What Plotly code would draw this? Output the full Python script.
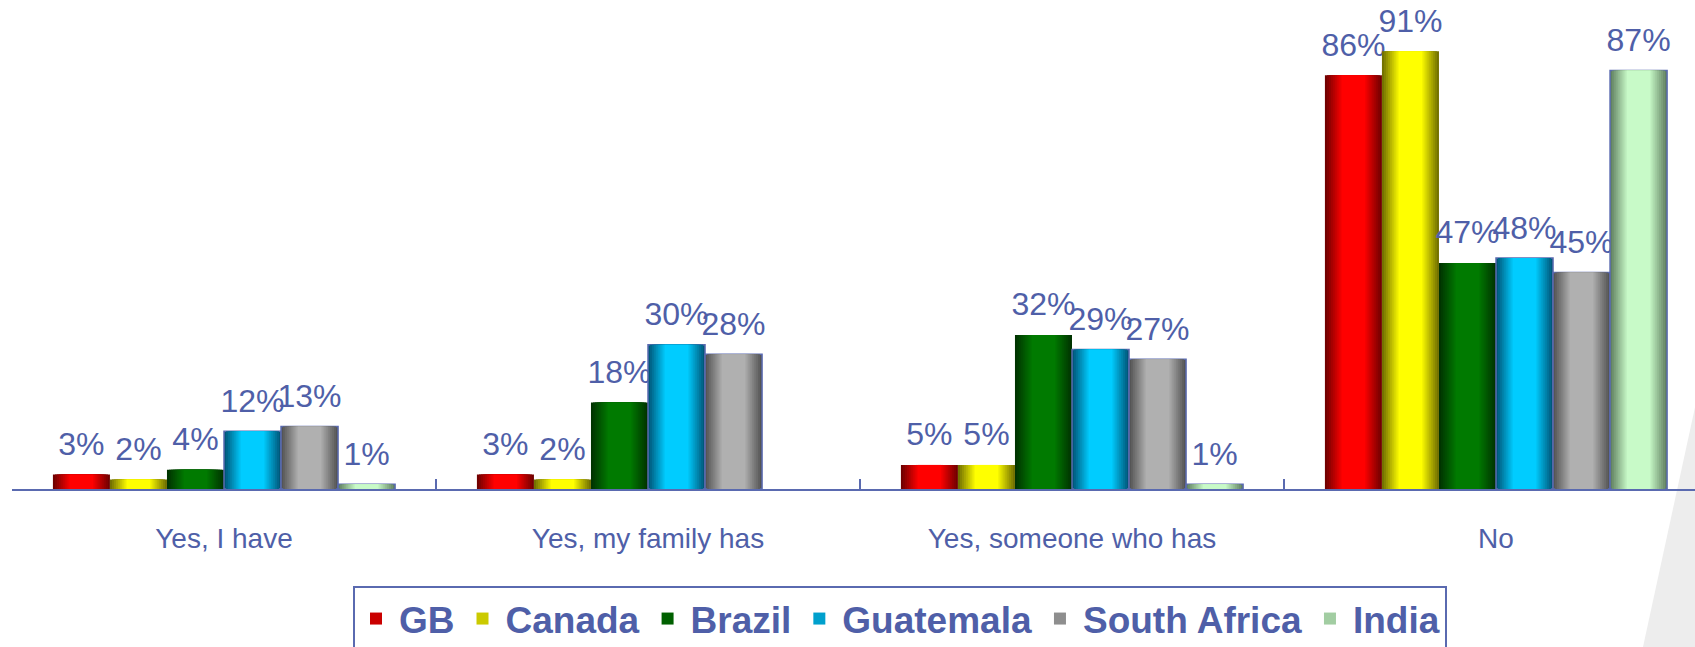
import plotly.graph_objects as go

# ---------------- data ----------------
CATEGORIES = ["Yes, I have", "Yes, my family has", "Yes, someone who has", "No"]
SERIES = ["GB", "Canada", "Brazil", "Guatemala", "South Africa", "India"]
GB = [3, 3, 5, 86]
CANADA = [2, 2, 5, 91]
BRAZIL = [4, 18, 32, 47]
GUATEMALA = [12, 30, 29, 48]
SOUTH_AFRICA = [13, 28, 27, 45]
INDIA = [1, None, 1, 87]
VALUES = [GB, CANADA, BRAZIL, GUATEMALA, SOUTH_AFRICA, INDIA]

# ---------------- styles ----------------
EDGE_COLORS = ["#720000", "#747200", "#003400", "#00587A", "#555555", "#628262"]
CENTER_COLORS = ["#FF0000", "#FFFF00", "#007A00", "#00CCFF", "#B0B0B0", "#C8FAC8"]
OUTLINED = [False, False, False, True, True, True]
TEXT_COLOR = "#4F5FA8"
LINE_COLOR = "#5A6AB0"
FONT = "Liberation Sans, Arial, sans-serif"

W_PX, H_PX = 1695, 647
M_L, M_R, M_T, M_B = 12, 0, 8, 158
PLOT_W = W_PX - M_L - M_R
PLOT_H = H_PX - M_T - M_B
CAT_PX = 424.0

GROUP = 0.807
BW = GROUP / len(SERIES)
K = 9


def hex2rgb(h):
    h = h.lstrip("#")
    return tuple(int(h[j:j + 2], 16) for j in (0, 2, 4))


def mix(c1, c2, t):
    a, b = hex2rgb(c1), hex2rgb(c2)
    return "rgb(%d,%d,%d)" % tuple(round(a[j] + (b[j] - a[j]) * t) for j in range(3))


fig = go.Figure()

for i, name in enumerate(SERIES):
    vals = VALUES[i]
    off_i = -GROUP / 2 + i * BW
    for k in range(K):
        t = k / (K - 1)
        f = 1.0 - t * 0.58
        fig.add_trace(go.Bar(
            x=CATEGORIES, y=vals, name=name, legendgroup=name,
            width=BW * f, offset=off_i + BW * (1 - f) / 2,
            marker=dict(color=mix(EDGE_COLORS[i], CENTER_COLORS[i], t),
                        line=dict(color=LINE_COLOR,
                                  width=1.5 if (OUTLINED[i] and k == 0) else 0)),
            showlegend=(k == K // 2 + 1), hoverinfo="skip" if k else "x+y+name",
        ))
    # value labels (transparent spacer bar sitting on top of each bar)
    fig.add_trace(go.Bar(
        x=CATEGORIES, y=[2.0 if v is not None else None for v in vals],
        base=[v if v is not None else 0 for v in vals],
        width=BW, offset=off_i, name=name, legendgroup=name,
        marker=dict(color="rgba(0,0,0,0)", line=dict(width=0)),
        text=[f"{v}%" if v is not None else "" for v in vals],
        textposition="outside", constraintext="none", cliponaxis=False,
        textfont=dict(family=FONT, size=32, color=TEXT_COLOR),
        showlegend=False, hoverinfo="skip",
    ))

# decorative light-grey swoosh at the right edge
fig.add_shape(type="path", xref="paper", yref="paper", layer="below",
              path="M 1.0 0.17 L 0.969 -0.33 L 1.0 -0.33 Z",
              fillcolor="#EDEDED", line=dict(width=0))

fig.update_layout(
    width=W_PX, height=H_PX,
    margin=dict(l=M_L, r=M_R, t=M_T, b=M_B, pad=0, autoexpand=False),
    barmode="overlay",
    paper_bgcolor="white", plot_bgcolor="rgba(0,0,0,0)",
    font=dict(family=FONT, color=TEXT_COLOR),
    xaxis=dict(type="category", range=[-0.5, -0.5 + PLOT_W / CAT_PX],
               showline=True, linecolor=LINE_COLOR, linewidth=2,
               ticks="inside", ticklen=10, tickwidth=1.5, tickcolor=LINE_COLOR,
               tickson="boundaries", showgrid=False, zeroline=False,
               tickfont=dict(family=FONT, size=28, color=TEXT_COLOR),
               ticklabelstandoff=23, fixedrange=True),
    yaxis=dict(range=[0, 100], visible=False, fixedrange=True),
    legend=dict(orientation="h", xanchor="left", yanchor="top",
                x=(353 - M_L) / PLOT_W, y=(PLOT_H - (586 - M_T)) / PLOT_H,
                bordercolor=LINE_COLOR, borderwidth=2, bgcolor="white",
                itemwidth=36,
                font=dict(family=FONT, size=37, color=TEXT_COLOR, weight="bold"),
                itemclick=False, itemdoubleclick=False),
    showlegend=True,
)

fig.write_html("out.html", config={"displayModeBar": False},
               post_script="document.body.style.margin='0';")
